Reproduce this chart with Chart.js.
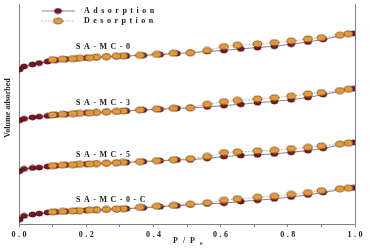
<!DOCTYPE html>
<html>
<head>
<meta charset="utf-8">
<script src="https://cdn.jsdelivr.net/npm/chart.js@4"></script>
<style>
  html, body { margin: 0; padding: 0; background: #fff; }
  #wrap { width: 369px; height: 250px; }
</style>
</head>
<body>
<div id="wrap"><canvas id="grafico"></canvas></div>
<script>
// ===== Data (P/P0 and volume, arbitrary units) =====
const adsP = [0.002, 0.015, 0.04, 0.06, 0.085, 0.11, 0.14, 0.17, 0.2, 0.23, 0.26, 0.29, 0.32,
  0.37, 0.42, 0.47, 0.51, 0.56, 0.61, 0.66, 0.71, 0.76, 0.81, 0.86, 0.905, 0.995];
const desP = [0.98, 0.955, 0.90, 0.86, 0.81, 0.76, 0.71, 0.65, 0.61, 0.56, 0.51, 0.46, 0.41,
  0.36, 0.31, 0.29, 0.26, 0.23, 0.21, 0.18, 0.16, 0.13, 0.10];

const sampleNames = ['SA-MC-0', 'SA-MC-3', 'SA-MC-5', 'SA-MC-0-C'];

const adsSAMC0 = [158, 161, 163, 164.5, 166, 167.5, 168.5, 169, 169.7, 170.3, 171, 171.4, 171.8,
  172.4, 173.2, 174.3, 175, 176.3, 177.3, 179, 180.3, 181.7, 183.7, 186, 188.7, 194.7];
const desSAMC0 = [194.3, 193, 190.3, 189, 187, 185.3, 184, 182.7, 181.3, 177.3, 175, 174.5, 173.3,
  172.3, 171.8, 171.5, 171, 170.5, 170, 169.5, 169, 168.5, 168];

const adsSAMC3 = [106, 107.5, 109, 109.7, 110.5, 111.5, 112.3, 113, 113.5, 114, 114.5, 115, 115.5,
  116.5, 117.3, 118.2, 118.7, 119.7, 121, 122.3, 124, 125.3, 127, 129.3, 132.3, 138.3];
const desSAMC3 = [137.7, 136.3, 134.3, 133, 130.7, 129, 127.7, 126.3, 125, 122.3, 118.7, 118.2, 117.4,
  116.6, 115.5, 115, 114.6, 114, 113.6, 113.1, 112.7, 112.2, 111.5];

const adsSAMC5 = [54, 56.3, 57.3, 57.7, 58.7, 59.5, 60.3, 60.8, 61.3, 61.8, 62.2, 62.6, 63,
  63.8, 64.7, 65.5, 65.7, 67, 69, 70, 70.7, 71.7, 73.3, 75, 77.3, 83.3];
const desSAMC5 = [82.7, 81.7, 79.7, 78.3, 77, 75.3, 74.7, 73.7, 73, 69, 66.7, 65.7, 64.7,
  63.7, 63, 62.6, 62.2, 61.8, 61.4, 61, 60.6, 60.2, 59.7];

const adsSAMC0C = [4.7, 8.3, 9.7, 10.7, 11.7, 12.3, 13, 13.5, 14, 14.4, 14.8, 15.2, 15.6,
  16.5, 17.7, 18.7, 19.7, 20.7, 21.3, 23, 24.3, 25.7, 27.7, 29.7, 32.3, 37];
const desSAMC0C = [36.7, 36, 34, 32, 30.3, 28.3, 27.3, 25.7, 24.3, 21.7, 20.3, 19, 18.2,
  17, 15.7, 15.3, 14.9, 14.5, 14.2, 13.7, 13.3, 12.9, 12.3];

const adsSeries = [adsSAMC0, adsSAMC3, adsSAMC5, adsSAMC0C];
const desSeries = [desSAMC0, desSAMC3, desSAMC5, desSAMC0C];

const xTickLabels = [0, 0.2, 0.4, 0.6, 0.8, 1.0];

// ===== Styles =====
const FONTE = '"Liberation Serif", "DejaVu Serif", serif';
const COR_EIXO = '#808080';

// where the sample names sit (x in P/P0, y in volume units)
const rotuloX = 0.17;
const rotuloY = [181, 124, 71, 25];

function criarElipse(w, h, fill, stroke) {
  const c = document.createElement('canvas');
  c.width = w + 2;
  c.height = h + 2;
  const g = c.getContext('2d');
  g.beginPath();
  g.ellipse(c.width / 2, c.height / 2, w / 2, h / 2, 0, 0, Math.PI * 2);
  g.fillStyle = fill;
  g.fill();
  g.lineWidth = 0.8;
  g.strokeStyle = stroke;
  g.stroke();
  return c;
}

const marcaAds = criarElipse(7, 5, '#7a1424', '#3f0810');
const marcaDes = criarElipse(9, 6, '#e59a3a', '#7a4716');

// ===== Datasets =====
const datasets = [];
sampleNames.forEach((name, i) => {
  datasets.push({
    label: name + ' adsorption',
    data: adsP.map((p, k) => ({ x: p, y: adsSeries[i][k] })),
    borderColor: '#666',
    borderWidth: 0.8,
    pointStyle: marcaAds,
    pointRadius: 3,
    order: 2
  });
  datasets.push({
    label: name + ' desorption',
    data: desP.map((p, k) => ({ x: p, y: desSeries[i][k] })),
    borderColor: '#9a9a9a',
    borderWidth: 0.8,
    borderDash: [1.5, 1.5],
    pointStyle: marcaDes,
    pointRadius: 3,
    order: 1
  });
});

// ===== Extra drawing: names, legend, tick labels, axis titles =====
const decoracoes = {
  id: 'decoracoes',
  afterDatasetsDraw(chart) {
    const { ctx, chartArea, scales: { x, y } } = chart;
    ctx.save();
    ctx.fillStyle = '#222';
    ctx.textBaseline = 'middle';
    ctx.textAlign = 'left';

    // sample names
    ctx.font = 'bold 8px ' + FONTE;
    ctx.letterSpacing = '3.5px';
    sampleNames.forEach((name, i) => {
      ctx.fillText(name, x.getPixelForValue(rotuloX), y.getPixelForValue(rotuloY[i]));
    });

    // legend
    ctx.strokeStyle = '#666';
    ctx.lineWidth = 0.8;
    ctx.beginPath();
    ctx.moveTo(42, 11);
    ctx.lineTo(75, 11);
    ctx.stroke();
    ctx.drawImage(marcaAds, 58 - marcaAds.width / 2, 11 - marcaAds.height / 2);

    ctx.strokeStyle = '#9a9a9a';
    ctx.setLineDash([1.5, 1.5]);
    ctx.beginPath();
    ctx.moveTo(42, 21);
    ctx.lineTo(75, 21);
    ctx.stroke();
    ctx.setLineDash([]);
    ctx.drawImage(marcaDes, 58 - marcaDes.width / 2, 21 - marcaDes.height / 2);

    ctx.fillText('Adsorption', 84, 11);
    ctx.fillText('Desorption', 84, 21);

    // x tick labels, spaced out like the original
    ctx.letterSpacing = '2.5px';
    ctx.textAlign = 'center';
    xTickLabels.forEach(v => {
      ctx.fillText(v.toFixed(1), x.getPixelForValue(v) + 1.25, chartArea.bottom + 11);
    });
    ctx.textAlign = 'left';

    // x title: P / P0
    ctx.letterSpacing = '1.5px';
    ctx.fillText('P / P', 173, 241);
    ctx.letterSpacing = '0px';
    ctx.font = 'bold 5px ' + FONTE;
    ctx.fillText('0', 200, 244);

    // y title
    ctx.font = 'bold 8px ' + FONTE;
    ctx.translate(8, 108);
    ctx.rotate(-Math.PI / 2);
    ctx.textAlign = 'center';
    ctx.fillText('Volume adsorbed', 0, 0);

    ctx.restore();
  }
};

// ===== Chart =====
new Chart(document.getElementById('grafico'), {
  type: 'line',
  data: { datasets },
  plugins: [decoracoes],
  options: {
    responsive: true,
    maintainAspectRatio: false,
    animation: false,
    layout: { padding: 0 },
    plugins: {
      legend: { display: false },
      tooltip: { enabled: false }
    },
    scales: {
      x: {
        type: 'linear',
        min: 0,
        max: 1,
        afterFit: (scale) => { scale.height = 26; },
        border: { color: COR_EIXO, width: 1 },
        grid: { drawOnChartArea: false, tickLength: 3, color: COR_EIXO },
        ticks: {
          stepSize: 0.1,
          maxRotation: 0,
          autoSkip: false,
          callback: () => ''   // labels drawn by the plugin
        }
      },
      y: {
        min: 0,
        max: 224,
        afterFit: (scale) => { scale.width = 19; },
        border: { color: COR_EIXO, width: 1 },
        grid: { display: false },
        ticks: { display: false }
      },
      y2: {
        position: 'right',
        afterFit: (scale) => { scale.width = 14; },
        border: { color: COR_EIXO, width: 1 },
        grid: { display: false },
        ticks: { display: false }
      }
    }
  }
});
</script>
</body>
</html>
